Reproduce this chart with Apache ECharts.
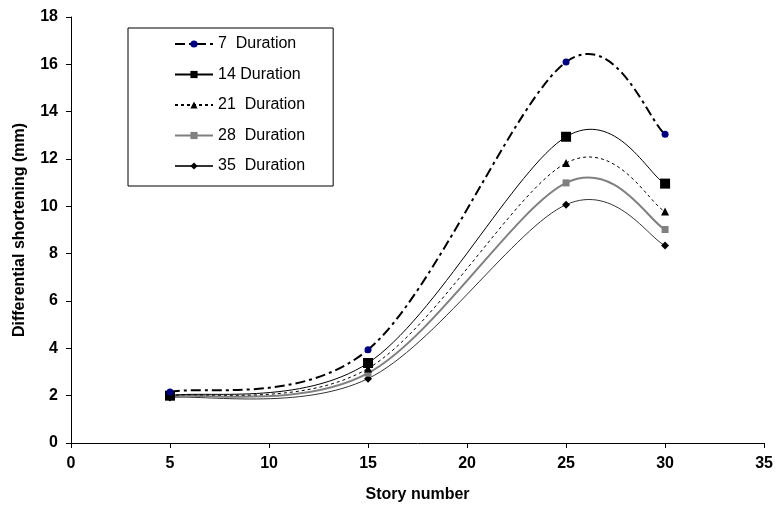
<!DOCTYPE html>
<html>
<head>
<meta charset="utf-8">
<script src="https://cdn.jsdelivr.net/npm/echarts@6/dist/echarts.min.js"></script>
<style>
html,body{margin:0;padding:0;background:#fff;}
#chart{width:776px;height:510px;}
</style>
</head>
<body>
<div id="chart"></div>
<script>
// Data
var stories = [5, 15, 25, 30];
var d7  = [2.15, 3.94, 16.1, 13.05];
var d14 = [2.0, 3.38, 12.94, 10.96];
var d21 = [2.0, 3.15, 11.83, 9.78];
var d28 = [1.97, 2.95, 10.99, 9.02];
var d35 = [1.92, 2.72, 10.07, 8.35];
var seriesNames = ['7  Duration', '14 Duration', '21  Duration', '28  Duration', '35  Duration'];
var xTicks = {min: 0, max: 35, interval: 5};
var yTicks = {min: 0, max: 18, interval: 2};

var FONT = 'Liberation Sans, Arial, sans-serif';
function pairs(ys) { return stories.map(function (x, i) { return [x, ys[i]]; }); }

var styles = [
  {ys: d7,  line: {color: '#000', width: 2, type: [10, 4, 3, 4]}, symbol: 'circle', size: 7, mcolor: '#000080'},
  {ys: d14, line: {color: '#000', width: 1, type: 'solid'}, symbol: 'rect', size: 10, mcolor: '#000'},
  {ys: d21, line: {color: '#000', width: 1, type: [3, 3]}, symbol: 'triangle', size: 8, mcolor: '#000'},
  {ys: d28, line: {color: '#808080', width: 2, type: 'solid'}, symbol: 'rect', size: 7, mcolor: '#808080'},
  {ys: d35, line: {color: '#333', width: 1, type: 'solid'}, symbol: 'diamond', size: 8, mcolor: '#000'}
];

// Smoothed curve (Catmull-Rom style Bezier as in spreadsheet charts) through points mapped by the axes
function curveSeries(s, idx) {
  return {
    type: 'custom', name: 'curve' + idx, silent: true,
    data: [[stories[0], s.ys[0]]],
    renderItem: function (params, api) {
      var pts = stories.map(function (x, i) { return api.coord([x, s.ys[i]]); });
      var n = pts.length, children = [];
      var dash = Array.isArray(s.line.type) ? s.line.type : null;
      for (var i = 0; i < n - 1; i++) {
        var p0 = pts[Math.max(i - 1, 0)], p1 = pts[i], p2 = pts[i + 1], p3 = pts[Math.min(i + 2, n - 1)];
        children.push({
          type: 'bezierCurve',
          shape: {
            x1: p1[0], y1: p1[1], x2: p2[0], y2: p2[1],
            cpx1: p1[0] + (p2[0] - p0[0]) / 6, cpy1: p1[1] + (p2[1] - p0[1]) / 6,
            cpx2: p2[0] - (p3[0] - p1[0]) / 6, cpy2: p2[1] - (p3[1] - p1[1]) / 6
          },
          style: {stroke: s.line.color, lineWidth: s.line.width, lineDash: dash, fill: null}
        });
      }
      return {type: 'group', children: children};
    }
  };
}

var series = [];
for (var k = styles.length - 1; k >= 0; k--) series.push(curveSeries(styles[k], k));
for (var k = styles.length - 1; k >= 0; k--) {
  var s = styles[k];
  series.push({
    name: seriesNames[k], type: 'line', data: pairs(s.ys),
    symbol: s.symbol, symbolSize: s.size,
    itemStyle: {color: s.mcolor},
    lineStyle: {color: s.line.color, width: s.line.width, type: s.line.type, opacity: 0}
  });
}

var chart = echarts.init(document.getElementById('chart'), null, {renderer: 'canvas'});
chart.setOption({
  animation: false,
  backgroundColor: '#ffffff',
  grid: {left: 71, right: 9, top: 17, bottom: 67, containLabel: false},
  legend: {
    orient: 'vertical',
    left: 128, top: 28,
    padding: [8, 28, 12, 46],
    itemGap: 14.5,
    itemWidth: 38, itemHeight: 9,
    borderColor: '#000', borderWidth: 1,
    textStyle: {fontFamily: FONT, fontSize: 16, color: '#000'},
    data: seriesNames.map(function (n) { return {name: n, lineStyle: {opacity: 1}}; })
  },
  xAxis: {
    type: 'value', min: xTicks.min, max: xTicks.max, interval: xTicks.interval,
    name: 'Story number', nameLocation: 'middle', nameGap: 44,
    nameTextStyle: {fontFamily: FONT, fontSize: 16, fontWeight: 'bold', color: '#000'},
    axisLine: {show: true, onZero: false, lineStyle: {color: '#000', width: 1}},
    axisTick: {show: true, length: 5, lineStyle: {color: '#000'}},
    axisLabel: {fontFamily: FONT, fontSize: 16, fontWeight: 'bold', color: '#000', margin: 13},
    splitLine: {show: false}
  },
  yAxis: {
    type: 'value', min: yTicks.min, max: yTicks.max, interval: yTicks.interval,
    name: 'Differential shortening (mm)', nameLocation: 'middle', nameGap: 43,
    nameTextStyle: {fontFamily: FONT, fontSize: 16, fontWeight: 'bold', color: '#000'},
    axisLine: {show: true, onZero: false, lineStyle: {color: '#000', width: 1}},
    axisTick: {show: true, length: 5, lineStyle: {color: '#000'}},
    axisLabel: {fontFamily: FONT, fontSize: 16, fontWeight: 'bold', color: '#000', margin: 13},
    splitLine: {show: false}
  },
  series: series
});
</script>
</body>
</html>
